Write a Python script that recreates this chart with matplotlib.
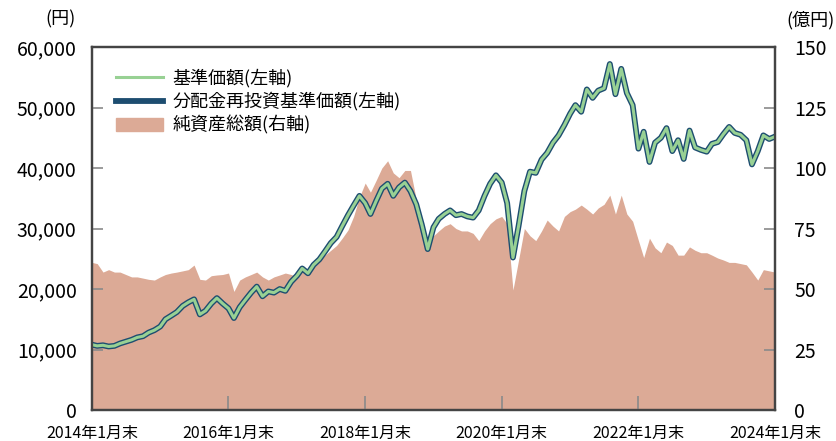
import numpy as np
import pandas as pd
import matplotlib
matplotlib.use("Agg")
import matplotlib.pyplot as plt
import matplotlib.patches as mpatches
from matplotlib.lines import Line2D

plt.rcParams['font.family'] = ['Noto Sans CJK JP', 'DejaVu Sans']

# month-end values, 2014-01 .. 2024-01
dates = pd.date_range('2014-01-31', periods=121, freq='ME')

# 基準価額 (円) - same as the reinvested series (no distributions)
nav = [
    10800, 10600, 10700, 10500, 10600, 11000, 11300, 11600, 12000, 12200, 12800, 13200,
    13800, 15000, 15600, 16200, 17200, 17800, 18300, 15800, 16400, 17600, 18500, 17600,
    16800, 15200, 17000, 18200, 19400, 20400, 18800, 19600, 19400, 20000, 19700, 21200,
    22200, 23400, 22600, 24000, 24900, 26200, 27600, 28600, 30400, 32200, 33800, 35400,
    34200, 32400, 34600, 36600, 37400, 35400, 36800, 37600, 36200, 34000, 30600, 26600,
    30200, 31600, 32400, 33000, 32200, 32400, 32000, 31800, 33000, 35400, 37400, 38800,
    37600, 34200, 25200, 30400, 36200, 39400, 39200, 41400, 42500, 44200, 45400, 47100,
    49000, 50400, 49300, 53000, 51600, 52800, 53200, 57200, 52200, 56400, 52400, 50400,
    43200, 46000, 41000, 44200, 45000, 46600, 42800, 44600, 41500, 46200, 43400, 43000,
    42700, 44000, 44300, 45600, 46800, 45800, 45500, 44600, 40600, 42800, 45400, 44800,
    45200,
]
nav_reinv = nav

# 純資産総額 (億円)
assets = [
    61.0, 60.5, 57.0, 58.0, 57.0, 57.0, 56.0, 55.0, 55.0, 54.5, 54.0, 53.7,
    55.0, 56.0, 56.6, 57.0, 57.5, 58.0, 59.9, 54.0, 53.7, 55.5, 55.8, 56.0,
    56.6, 49.0, 53.7, 55.0, 56.0, 57.0, 55.0, 53.7, 55.0, 55.8, 56.6, 56.0,
    55.0, 58.0, 58.0, 60.0, 62.0, 64.0, 66.0, 68.0, 71.0, 74.4, 80.0, 88.0,
    93.8, 90.0, 95.0, 100.0, 103.0, 98.0, 96.0, 99.0, 99.0, 87.0, 78.0, 69.0,
    72.0, 74.0, 76.0, 77.0, 75.0, 74.0, 74.0, 73.0, 70.0, 74.0, 77.0, 79.0,
    80.0, 77.0, 49.6, 62.0, 75.0, 72.0, 70.0, 74.0, 78.5, 76.0, 74.0, 80.0,
    82.0, 83.0, 84.7, 83.0, 81.0, 83.5, 85.0, 88.8, 81.0, 88.8, 81.0, 78.0,
    70.0, 63.0, 71.0, 67.0, 65.0, 69.4, 68.0, 64.0, 64.0, 67.4, 66.0, 65.0,
    65.0, 64.0, 62.8, 62.0, 61.0, 61.0, 60.5, 60.0, 57.0, 53.7, 58.0, 57.5,
    57.0,
]

tick_dates = pd.to_datetime(['2014-01-31', '2016-01-31', '2018-01-31',
                             '2020-01-31', '2022-01-31', '2024-01-31'])
tick_labels = ['2014年1月末', '2016年1月末', '2018年1月末',
               '2020年1月末', '2022年1月末', '2024年1月末']

c_bg = '#e9f4ee'
c_fill = '#dcaa96'
c_green = '#98d194'
c_navy = '#1d4d70'
c_tick = '#8a8a8a'

fig = plt.figure(figsize=(8.36, 4.41), dpi=100)
ax = fig.add_axes([0.110, 0.0703, 0.817, 0.823])
ax2 = ax.twinx()

# area on the right axis, behind the lines
ax.set_zorder(ax2.get_zorder() + 1)
ax.patch.set_visible(False)
ax2.set_facecolor(c_bg)
ax2.fill_between(dates, assets, 0, color=c_fill, linewidth=0)

ax.plot(dates, nav_reinv, color=c_navy, lw=4.2, solid_joinstyle='round')
ax.plot(dates, nav, color=c_green, lw=2.2, solid_joinstyle='round')

ax.set_xlim(dates[0], dates[-1])
ax.set_ylim(0, 60000)
ax2.set_ylim(0, 150)

ax.set_yticks(np.arange(0, 60001, 10000))
ax.set_yticklabels([f'{v:,}' for v in range(0, 60001, 10000)])
ax2.set_yticks(np.arange(0, 151, 25))
ax.set_xticks(tick_dates)
ax.set_xticklabels(tick_labels)

ax.tick_params(axis='y', direction='in', length=8, width=1.2, color=c_tick,
               labelsize=14, pad=11)
ax.tick_params(axis='x', direction='in', length=10, width=1.2, color=c_tick,
               labelsize=11.5, pad=11)
ax2.tick_params(axis='y', direction='in', length=8, width=1.2, color=c_tick,
                labelsize=14, pad=14)

for a in (ax, ax2):
    for s in a.spines.values():
        s.set_color('#444444')
        s.set_linewidth(1.6)

fig.text(0.09, 0.955, '(円)', ha='right', va='center', fontsize=13)
fig.text(0.998, 0.955, '(億円)', ha='right', va='center', fontsize=13)

handles = [
    Line2D([], [], color=c_green, lw=2.2),
    Line2D([], [], color=c_navy, lw=4.2),
    mpatches.Patch(color=c_fill),
]
labels = ['基準価額(左軸)', '分配金再投資基準価額(左軸)', '純資産総額(右軸)']
leg = ax.legend(handles, labels, loc='upper left', bbox_to_anchor=(0.012, 0.985),
                fontsize=13, frameon=True, fancybox=False, framealpha=1,
                edgecolor='white', facecolor='white', handlelength=2.6,
                handletextpad=0.5, labelspacing=0.25, borderpad=0.4)

fig.savefig('out.png', dpi=100)
